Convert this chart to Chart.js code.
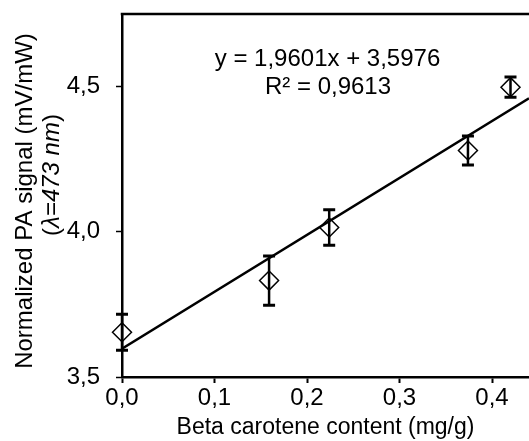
<!DOCTYPE html>
<html>
<head>
<meta charset="utf-8">
<script src="https://cdn.jsdelivr.net/npm/chart.js@4"></script>
<style>
  body { margin: 0; background: #fff; }
  canvas { display: block; }
</style>
</head>
<body>
<canvas id="ctx" width="529" height="441"></canvas>
<script>
const content = [0.0, 0.159, 0.224, 0.374, 0.42]
const signal = [3.654, 3.832, 4.015, 4.280, 4.498]
const signalErr = [0.062, 0.085, 0.061, 0.050, 0.035]

// trendline end points (from the fitted equation)
const fitX = [0.0, 0.44]
const fitY = [3.5976, 4.4600]

const xTicks = [0.0, 0.1, 0.2, 0.3, 0.4]
const yTicks = [3.5, 4.0, 4.5]

const equation = ['y = 1,9601x + 3,5976', 'R² = 0,9613']
const xTitle = 'Beta carotene content (mg/g)'
const yTitle = 'Normalized PA signal (mV/mW)'
const yTitle2 = ['(', 'λ=473 nm', ')']

const FAMILY = "'Liberation Sans', Arial, sans-serif"
const fmt = v => v.toFixed(1).replace('.', ',')

const $chart = document.getElementById('ctx')

const extras = {
  id: 'extras',
  afterDatasetsDraw: (chart) => {
    const {ctx, scales: {x, y}} = chart
    ctx.save()
    ctx.strokeStyle = '#000'
    content.forEach((cx, i) => {
      const px = x.getPixelForValue(cx)
      const top = y.getPixelForValue(signal[i] + signalErr[i])
      const bot = y.getPixelForValue(signal[i] - signalErr[i])
      ctx.lineWidth = 2.5
      ctx.beginPath()
      ctx.moveTo(px, top)
      ctx.lineTo(px, bot)
      ctx.stroke()
      ctx.lineWidth = 3
      ctx.beginPath()
      ctx.moveTo(px - 6, top)
      ctx.lineTo(px + 6, top)
      ctx.moveTo(px - 6, bot)
      ctx.lineTo(px + 6, bot)
      ctx.stroke()
    })
    ctx.restore()
  },
  afterDraw: (chart) => {
    const {ctx, chartArea} = chart
    ctx.save()
    // top frame line
    ctx.strokeStyle = '#000'
    ctx.lineWidth = 2.5
    ctx.beginPath()
    ctx.moveTo(chartArea.left - 1.25, chartArea.top)
    ctx.lineTo(chartArea.right, chartArea.top)
    ctx.stroke()

    ctx.fillStyle = '#000'
    ctx.font = `24px ${FAMILY}`
    ctx.textAlign = 'center'
    ctx.textBaseline = 'alphabetic'
    ctx.fillText(equation[0], 327.5, 66)
    ctx.fillText(equation[1], 328, 94)

    // y title, line 1
    ctx.save()
    ctx.translate(25, 201)
    ctx.rotate(-Math.PI / 2)
    ctx.textBaseline = 'middle'
    ctx.fillText(yTitle, 0, 0)
    ctx.restore()

    // y title, line 2 (lambda part italic)
    ctx.save()
    ctx.translate(52, 175)
    ctx.rotate(-Math.PI / 2)
    ctx.textBaseline = 'middle'
    ctx.textAlign = 'left'
    const fonts = [`24px ${FAMILY}`, `italic 24px ${FAMILY}`, `24px ${FAMILY}`]
    let total = 0
    const widths = yTitle2.map((t, i) => {
      ctx.font = fonts[i]
      const w = ctx.measureText(t).width
      total += w
      return w
    })
    let pos = -total / 2
    yTitle2.forEach((t, i) => {
      ctx.font = fonts[i]
      ctx.fillText(t, pos, 0)
      pos += widths[i]
    })
    ctx.restore()

    ctx.restore()
  }
}

const data = {
  datasets: [{
    type: 'scatter',
    data: content.map((v, i) => ({x: v, y: signal[i]})),
    pointStyle: 'rectRot',
    pointRadius: 9.5,
    pointHoverRadius: 9.5,
    pointBorderWidth: 1.5,
    pointBorderColor: '#000',
    pointBackgroundColor: 'rgba(0,0,0,0)',
    clip: false,
    order: 1
  }, {
    type: 'line',
    data: fitX.map((v, i) => ({x: v, y: fitY[i]})),
    borderColor: '#000',
    borderWidth: 2.5,
    pointRadius: 0,
    fill: false,
    order: 2
  }]
}

const options = {
  data,
  options: {
    responsive: false,
    animation: false,
    devicePixelRatio: 1,
    layout: {padding: 0, autoPadding: false},
    plugins: {
      legend: {display: false},
      tooltip: {enabled: false}
    },
    scales: {
      x: {
        type: 'linear',
        min: 0,
        max: 0.44,
        afterBuildTicks: (scale) => { scale.ticks = xTicks.map(v => ({value: v})) },
        afterFit: (scale) => {
          scale.height = 64
          scale.paddingLeft = 0
          scale.paddingRight = 0
        },
        ticks: {
          color: '#000',
          padding: 1,
          font: {family: FAMILY, size: 24},
          callback: fmt
        },
        grid: {
          drawOnChartArea: false,
          color: '#000',
          tickColor: '#000',
          tickLength: 6,
          tickWidth: 2
        },
        border: {display: true, color: '#000', width: 2.5},
        title: {
          display: true,
          text: xTitle,
          color: '#000',
          font: {family: FAMILY, size: 23, lineHeight: 1},
          padding: {top: 0, bottom: 1.5}
        }
      },
      y: {
        type: 'linear',
        min: 3.5,
        max: 4.75,
        afterBuildTicks: (scale) => { scale.ticks = yTicks.map(v => ({value: v})) },
        afterFit: (scale) => {
          scale.width = 122
          scale.paddingTop = 14
          scale.paddingBottom = 0
        },
        ticks: {
          color: '#000',
          padding: 16,
          font: {family: FAMILY, size: 24, lineHeight: 1},
          callback: fmt
        },
        grid: {
          drawOnChartArea: false,
          color: '#000',
          tickColor: '#000',
          tickLength: 6,
          tickWidth: 1.5
        },
        border: {display: true, color: '#000', width: 2.5}
      }
    }
  },
  plugins: [extras]
}

const chart = new Chart($chart, options)
</script>
</body>
</html>
